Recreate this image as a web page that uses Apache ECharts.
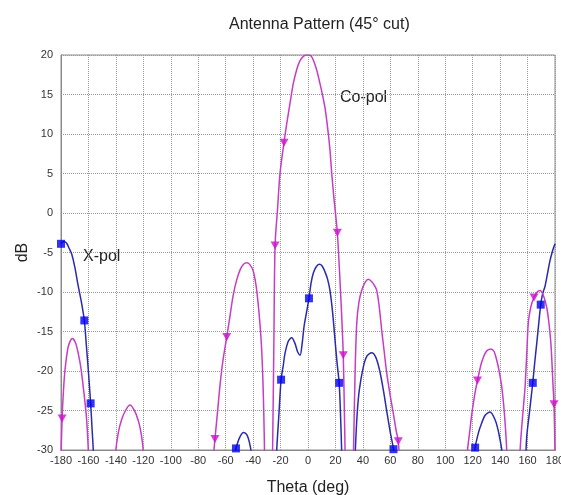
<!DOCTYPE html>
<html>
<head>
<meta charset="utf-8">
<script src="https://cdn.jsdelivr.net/npm/echarts@6/dist/echarts.min.js"></script>
<style>html,body{margin:0;padding:0;background:#fff;}#c{width:561px;height:495px;}</style>
</head>
<body>
<div id="c"></div>
<script>
// ---- data: [theta (deg), level (dB)] ----
const thetaTicks = { min: -180, max: 180, step: 20 };
const dbTicks = { min: -30, max: 20, step: 5 };

const copolCurve = [
  [-180,-31],[-179.2,-26],[-178.2,-22.5],[-177.1,-19.9],[-174.7,-16.9],[-171.8,-15.9],[-169.5,-16.4],[-167.4,-17.8],
  [-165.5,-19.6],[-163.8,-22],[-162.5,-24],[-161.3,-26.2],[-160.1,-30],[-159.5,-34],
  [-150,-45],
  [-141,-34],[-140,-30],[-138,-27.6],[-135.9,-26.2],[-133,-25],[-129.8,-24.3],[-126.8,-24.9],[-123.8,-26.2],
  [-121.8,-27.7],[-120.1,-30],[-119.3,-34],
  [-95,-45],
  [-69.5,-34],[-68.5,-30],[-67.8,-28.6],[-66,-25.3],[-64,-21.6],[-62,-18.7],[-59.2,-15.7],[-57,-13.2],[-54.4,-10.3],
  [-52,-8.5],[-49.5,-7.2],[-47,-6.5],[-44.7,-6.3],[-42.5,-6.5],[-40,-7.3],[-38,-9],[-36.3,-11.5],[-34.8,-14.5],
  [-33.7,-17.5],[-32.8,-21.5],[-32.2,-25.5],[-31.7,-30],[-31.3,-35],
  [-28.5,-42],
  [-26.3,-35],[-25.8,-30],[-24.9,-17],[-24,-4.1],[-22.2,0.5],[-20.4,5],[-17.5,8.9],[-15.5,11.3],[-13,14],
  [-10.7,16.4],[-8,18.3],[-5.8,19.3],[-3,19.9],[-0.5,20],[2,19.9],[4,19.3],[6.5,18],[8.7,16.4],[10.5,15],
  [12.4,13.3],[14.5,10.5],[16,8],[17.3,5],[19,1.7],[20.2,-0.3],[21.4,-2.5],[23,-7.5],[24.5,-12.8],[25.7,-18],
  [26.4,-24],[27,-30],[27.4,-36],
  [30,-42],
  [32.5,-35],[33.2,-30],[34.2,-21],[35.5,-14],[37.2,-11.2],[39.1,-9.8],[41.5,-8.8],[43.9,-8.4],[46.5,-8.7],
  [48.5,-9.2],[50.1,-9.8],[52,-12],[53.7,-14.8],[55.5,-17.5],[57.4,-20.3],[60,-23.2],[62.2,-25.4],[64.2,-27.5],
  [65.8,-28.9],[66.5,-31],[67,-36],
  [90,-45],
  [115.3,-34],[116.3,-30],[117.7,-27.9],[119.4,-25.4],[121.5,-23],[123.5,-21.2],[126.7,-18.8],[130,-17.5],
  [133.2,-17.2],[135.5,-17.5],[137.5,-18.6],[139.5,-20.2],[141.2,-22],[142.7,-24.5],[144,-27.5],[144.8,-30],[145.5,-34],
  [150,-45],
  [154,-34],[154.6,-30],[155.8,-27],[157,-24.5],[158.2,-22],[159.5,-17.5],[160.6,-13.8],[162.5,-11.8],[164.7,-10.7],
  [167,-10],[169.1,-9.8],[171.5,-10.4],[173.9,-11.9],[175.5,-13.8],[177,-16.5],[177.8,-19],[178.6,-22],[179.3,-24.2],[180,-30.5]
];

const xpolCurve = [
  [-180,-3.9],[-178,-3.6],[-176,-3.8],[-174,-4.5],[-172.2,-5.2],[-170,-6.8],[-167.4,-9.3],[-165,-11.4],[-163,-13.6],
  [-161.5,-16.8],[-160.1,-19.9],[-158.4,-24.1],[-157.3,-27.5],[-156.5,-30],[-156,-34],
  [-100,-45],
  [-54,-32],[-53,-30.3],[-52.5,-29.8],[-50,-28.5],[-47,-27.8],[-44.5,-28.1],[-42.5,-29.2],[-41,-30.8],[-40.2,-34],
  [-32,-45],
  [-23.3,-33],[-22.8,-30],[-21.2,-25.5],[-19.6,-21.1],[-18,-19.3],[-16.8,-17.8],[-14.3,-16.2],[-11.9,-15.8],
  [-9.5,-16.5],[-7.5,-17.6],[-5.8,-18],[-4.3,-16.6],[-2.9,-14.4],[-1,-12.5],[0.7,-10.8],[2.3,-8.8],[3.9,-7.6],
  [6,-6.8],[8.2,-6.5],[10.3,-6.7],[12.4,-7.45],[14.3,-8.4],[16,-9.8],[18,-12.7],[19.7,-16.1],[21.2,-19],
  [22.7,-21.5],[23.7,-25.5],[24.5,-30],[25,-34],
  [29,-45],
  [33.5,-35],[34.5,-30],[35.8,-25.5],[37.4,-22.4],[40.3,-19.5],[43,-18.1],[46.4,-17.7],[49.5,-18.3],[52.3,-20],
  [54.9,-22.4],[57.5,-25.2],[60,-27.8],[62.3,-29.9],[63,-31.5],[63.6,-35],
  [95,-45],
  [120.5,-32],[121.8,-29.7],[123.5,-28.3],[125.5,-27.1],[129.1,-25.6],[132.7,-25.2],[136.4,-26.2],[138.3,-27.3],
  [139.5,-28.3],[141.2,-30],[141.8,-33],
  [150,-45],
  [158.2,-34],[158.9,-30],[159.4,-28.3],[160.3,-26.8],[161.3,-25.4],[162.5,-23.5],[163.8,-21.5],[165.3,-18.8],
  [166.7,-16.5],[168.2,-13.9],[169.6,-11.6],[171,-10.2],[172.7,-9.3],[174.5,-7.7],[176.4,-6.0],[178.2,-4.8],[180,-3.9]
];

const copolMarkers = [
  [-179.2,-26],[-67.8,-28.6],[-59.2,-15.7],[-24,-4.1],[-17.5,8.9],[21.4,-2.5],[25.7,-18],
  [65.8,-28.9],[123.5,-21.2],[164.7,-10.7],[179.3,-24.2]
];
const xpolMarkers = [
  [-180,-3.9],[-163,-13.6],[-158.4,-24.1],[-52.5,-29.8],[-19.6,-21.1],[0.7,-10.8],[22.7,-21.5],
  [62.3,-29.9],[121.8,-29.7],[163.8,-21.5],[169.6,-11.6]
];

const titleText = 'Antenna Pattern (45° cut)';
const xName = 'Theta (deg)';
const yName = 'dB';
const copolName = 'Co-pol';
const xpolName = 'X-pol';

// ---- chart ----
const FONT = '"Liberation Sans", Arial, Helvetica, sans-serif';
const chart = echarts.init(document.getElementById('c'), null, { renderer: 'canvas' });
const copolColor = '#c63cc6';
const xpolColor = '#2a2aae';

chart.setOption({
  animation: false,
  backgroundColor: '#ffffff',
  title: {
    text: titleText,
    left: 224, top: 12,
    textStyle: { fontFamily: FONT, fontSize: 16, fontWeight: 'normal', color: '#222' }
  },
  grid: {
    left: 61, top: 55, width: 494, height: 395,
    containLabel: false, outerBoundsMode: 'none',
    show: true, borderColor: '#8a8a8a', borderWidth: 1, backgroundColor: 'transparent'
  },
  xAxis: {
    type: 'value',
    min: thetaTicks.min, max: thetaTicks.max, interval: thetaTicks.step,
    name: xName, nameLocation: 'middle', nameGap: 30, nameMoveOverlap: false,
    nameTextStyle: { fontFamily: FONT, fontSize: 16, color: '#222' },
    axisLine: { show: true, onZero: false, lineStyle: { color: '#8a8a8a', width: 1 } },
    axisTick: { show: false },
    axisLabel: { fontFamily: FONT, fontSize: 11, color: '#333', margin: 5, hideOverlap: false },
    splitLine: { show: true, lineStyle: { color: '#9a9a9a', type: 'dotted', width: 1 } }
  },
  yAxis: {
    type: 'value',
    min: dbTicks.min, max: dbTicks.max, interval: dbTicks.step,
    name: yName, nameLocation: 'middle', nameGap: 30, nameRotate: 90, nameMoveOverlap: false,
    nameTextStyle: { fontFamily: FONT, fontSize: 16, color: '#222' },
    axisLine: { show: true, onZero: false, lineStyle: { color: '#8a8a8a', width: 1 } },
    axisTick: { show: false },
    axisLabel: { fontFamily: FONT, fontSize: 11, color: '#333', margin: 8 },
    splitLine: { show: true, lineStyle: { color: '#9a9a9a', type: 'dotted', width: 1 } }
  },
  series: [
    {
      name: xpolName, type: 'line', data: xpolCurve, smooth: 0.3, showSymbol: false,
      clip: true, lineStyle: { color: xpolColor, width: 1.5 }, z: 2
    },
    {
      name: copolName, type: 'line', data: copolCurve, smooth: 0.3, showSymbol: false,
      clip: true, lineStyle: { color: copolColor, width: 1.5 }, z: 3
    },
    {
      name: xpolName + ' markers', type: 'scatter', data: xpolMarkers, symbol: 'rect', symbolSize: 8,
      clip: false, itemStyle: { color: '#0000f0' }, z: 4
    },
    {
      name: copolName + ' markers', type: 'scatter', data: copolMarkers, symbol: 'triangle', symbolRotate: 180,
      symbolSize: [9, 8], clip: false, itemStyle: { color: '#cc10cc' }, z: 5
    }
  ],
  graphic: [
    { type: 'text', left: 340, top: 90, style: { text: copolName, font: '16px ' + FONT, fill: '#222' } },
    { type: 'text', left: 83, top: 249, style: { text: xpolName, font: '16px ' + FONT, fill: '#222' } }
  ]
});
</script>
</body>
</html>
